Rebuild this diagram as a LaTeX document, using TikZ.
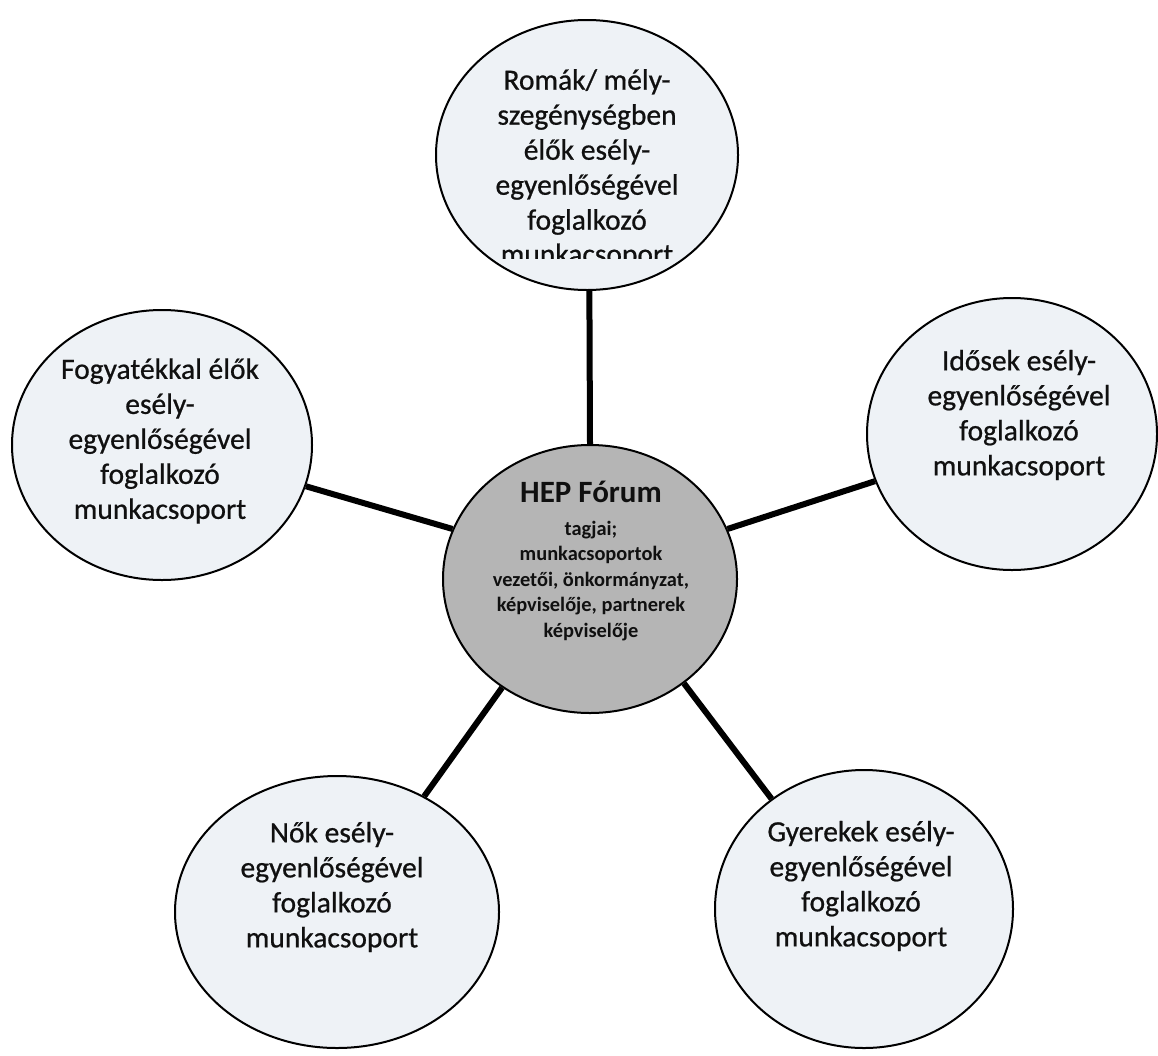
\documentclass[tikz,border=0pt]{standalone}
\usepackage{fontspec}
\setmainfont{Carlito}
\newfontfamily\scanfont{Carlito}[RawFeature={embolden=0.7}]
\usetikzlibrary{shapes.geometric}
\definecolor{outerfill}{HTML}{EEF2F6}
\definecolor{hubfill}{HTML}{B5B5B5}
\definecolor{ink}{HTML}{101010}
\begin{document}
\begin{tikzpicture}[x=1pt,y=-1pt,
  bubble/.style={ellipse, draw=black, line width=2pt, fill=outerfill, inner sep=0pt},
  hubshape/.style={ellipse, draw=black, line width=2pt, fill=hubfill, inner sep=0pt},
  label/.style={align=center, text=ink, inner sep=0pt, font=\scanfont\fontsize{29.5}{35}\selectfont},
  hublabel/.style={align=center, text=ink, inner sep=0pt, font=\bfseries\fontsize{20.4}{25.5}\selectfont},
  link/.style={line width=6pt, draw=black}]
\useasboundingbox (0,0) rectangle (1158,1055);
\fill[white] (0,0) rectangle (1158,1055);

\node[bubble, minimum width=302pt, minimum height=270pt] (roma) at (587,155) {};
\node[bubble, minimum width=300pt, minimum height=270pt] (fogy) at (162,445) {};
\node[bubble, minimum width=290pt, minimum height=272pt] (idos) at (1012,434) {};
\node[hubshape, minimum width=294pt, minimum height=268pt] (hub) at (590,579) {};
\node[bubble, minimum width=324pt, minimum height=272pt] (nok) at (337,912) {};
\node[bubble, minimum width=298pt, minimum height=278pt] (gyer) at (864,909) {};

\draw[link] (roma.-89.5) -- (hub.90);
\draw[link] (fogy.-16.4) -- (hub.160.6);
\draw[link] (idos.199.1) -- (hub.20.8);
\draw[link] (nok.53) -- (hub.231.1);
\draw[link] (gyer.130) -- (hub.-48.1);

\node[label] (romatxt) at (587,152) {Romák/ mély-\\szegénységben\\élők esély-\\egyenlőségével\\foglalkozó};
\begin{scope}
\clip (420,235) rectangle (760,258);
\node[label, anchor=base] (romalast) at (587,264) {munkacsoport};
\end{scope}
\node[label] (fogytxt) at (160,441) {Fogyatékkal élők\\esély-\\egyenlőségével\\foglalkozó\\munkacsoport};
\node[label] (idostxt) at (1019,415) {Idősek esély-\\egyenlőségével\\foglalkozó\\munkacsoport};
\node[label] (noktxt) at (332,887) {Nők esély-\\egyenlőségével\\foglalkozó\\munkacsoport};
\node[label] (gyertxt) at (861,886) {Gyerekek esély-\\egyenlőségével\\foglalkozó\\munkacsoport};
\node[hublabel] (hubtxt) at (591,561) {{\fontsize{31}{33}\selectfont HEP Fórum}\\[7pt]tagjai;\\munkacsoportok\\vezetői, önkormányzat,\\képviselője, partnerek\\képviselője};
\end{tikzpicture}
\end{document}
